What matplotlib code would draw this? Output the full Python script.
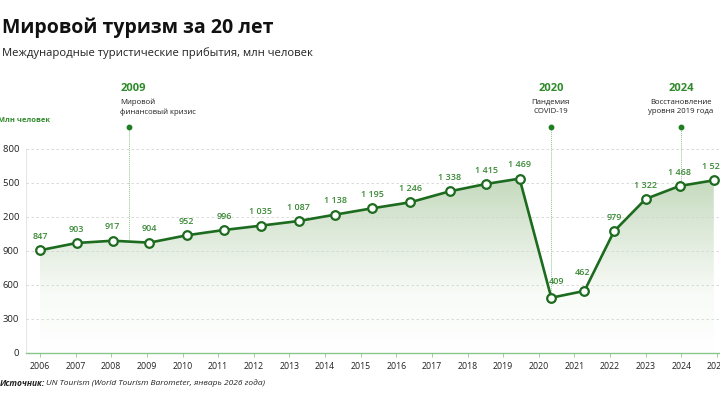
import matplotlib
matplotlib.use("Agg")
import matplotlib.pyplot as plt
import numpy as np
from matplotlib.colors import LinearSegmentedColormap
from matplotlib.patches import PathPatch

plt.rcParams["font.family"] = ["Open Sans", "DejaVu Sans"]

# data
years = list(range(2006, 2026))
# where the markers actually sit on the year axis (not exactly on the ticks)
point_pos = [2006.00, 2007.03, 2008.04, 2009.07, 2010.12, 2011.17, 2012.20,
             2013.26, 2014.28, 2015.32, 2016.39, 2017.50, 2018.52, 2019.46,
             2020.35, 2021.28, 2022.11, 2023.00, 2023.95, 2024.91]
# marker heights as read on the y scale
point_val = [904, 968, 988, 971, 1036, 1083, 1121, 1162, 1218, 1274, 1327,
             1424, 1489, 1536, 485, 545, 1071, 1357, 1471, 1521]
# printed value labels
value_labels = ["847", "903", "917", "904", "952", "996", "1 035", "1 087",
                "1 138", "1 195", "1 246", "1 338", "1 415", "1 469", "409",
                "462", "979", "1 322", "1 468", "1 520"]
y_ticks = [0, 300, 600, 900, 1200, 1500, 1800]
y_tick_labels = ["0", "300", "600", "900", "1 200", "1 500", "1 800"]

events = [
    # (x position, year text, description, line bottom, align)
    (2008.5, "2009", "Мировой\nфинансовый кризис", 993, "left"),
    (2020.35, "2020", "Пандемия\nCOVID-19", 485, "center"),
    (2024.0, "2024", "Восстановление\nуровня 2019 года", 1471, "center"),
]

DARK_GREEN = "#1d6b1f"
LABEL_GREEN = "#3b8a36"
TEXT = "#222222"

fig = plt.figure(figsize=(7.2, 4.05), dpi=100)
ax = fig.add_axes([26 / 720, 52.3 / 405, 694 / 720, 204 / 405])

x0 = 2006 - 14 / 35.63
ax.set_xlim(x0, x0 + 694 / 35.63)
ax.set_ylim(0, 1800)

# gradient fill under the line
poly = ax.fill_between(point_pos, point_val, 0, color="none", lw=0)
clip = PathPatch(poly.get_paths()[0], transform=ax.transData,
                 facecolor="none", edgecolor="none")
ax.add_patch(clip)
cmap = LinearSegmentedColormap.from_list("g", ["#ffffff", "#f8fbf7", "#dfeadb", "#c4dabd"])
grad = np.linspace(0, 1, 256).reshape(-1, 1)
im = ax.imshow(grad, extent=[point_pos[0], point_pos[-1], 0, 1560], origin="lower",
               cmap=cmap, aspect="auto", zorder=1, interpolation="bicubic")
im.set_clip_path(clip)

ax.set_axisbelow(False)
ax.yaxis.grid(True, color="#d4d4d4", linestyle=(0, (3, 3)), linewidth=0.6)
ax.xaxis.grid(False)

ax.plot(point_pos, point_val, color=DARK_GREEN, lw=1.9, zorder=4,
        marker="o", markersize=6.2, markerfacecolor="white",
        markeredgecolor=DARK_GREEN, markeredgewidth=1.6)

offsets = {"409": (3.5, 11.5), "462": (-1.5, 13)}
for xp, yv, lab in zip(point_pos, point_val, value_labels):
    ax.annotate(lab, (xp, yv), xytext=offsets.get(lab, (0, 10)),
                textcoords="offset points", ha="center", va="center",
                fontsize=6.5, fontweight="semibold", color=LABEL_GREEN, zorder=5)

# event markers
for xp, yr, desc, bottom, align in events:
    ax.plot([xp, xp], [bottom, 1992], color="#8cc68a", lw=0.7,
            linestyle=(0, (1, 1)), zorder=2, clip_on=False)
    ax.plot([xp], [1992], marker="o", markersize=3.2, color="#1f7d22",
            zorder=5, clip_on=False)
    dx = -6 if align == "left" else 0
    ax.annotate(yr, (xp, 1992), xytext=(dx, 28), textcoords="offset points",
                ha=align, va="center", fontsize=8, fontweight="bold",
                color="#2e8a2a", annotation_clip=False)
    ax.annotate(desc, (xp, 1992), xytext=(dx - 0.5, 14.5), textcoords="offset points",
                ha=align, va="center", fontsize=5.6, fontweight="medium", color=TEXT,
                linespacing=1.45, multialignment=align, annotation_clip=False)

ax.set_yticks(y_ticks)
ax.set_yticklabels(y_tick_labels)
ax.set_xticks(years)
ax.set_xticklabels([str(y) for y in years])
ax.tick_params(axis="y", length=0, pad=5, labelsize=6.8, labelcolor=TEXT)
ax.tick_params(axis="x", length=3, width=0.6, color="#8cc68a", pad=4,
               labelsize=6.3, labelcolor=TEXT)

for side in ["top", "right"]:
    ax.spines[side].set_visible(False)
ax.spines["left"].set_color("#e2e2e2")
ax.spines["left"].set_linewidth(0.6)
ax.spines["bottom"].set_color("#8cc68a")
ax.spines["bottom"].set_linewidth(1.0)

fig.text(2 / 720, 1 - 28 / 405, "Мировой туризм за 20 лет", fontsize=14,
         fontweight="bold", color="#111111", va="center", ha="left")
fig.text(2 / 720, 1 - 53 / 405, "Международные туристические прибытия, млн человек",
         fontsize=8.1, color=TEXT, va="center", ha="left")
fig.text(-2 / 720, 1 - 121 / 405, "Млн человек", fontsize=5.4, fontweight="bold",
         color="#2e8a2a", va="center", ha="left")

# source line: bold italic lead, then italic text right after it
src_lead = fig.text(0, 1 - 383 / 405, "Источник:", fontsize=6.0, fontweight="bold",
                    fontstyle="italic", color=TEXT, va="center", ha="left")
fig.canvas.draw()
lead_end = src_lead.get_window_extent().x1 / fig.bbox.width
fig.text(lead_end + 1 / 720, 1 - 383 / 405,
         "UN Tourism (World Tourism Barometer, январь 2026 года)",
         fontsize=6.0, fontstyle="italic", color=TEXT, va="center", ha="left")

fig.savefig("out.png", dpi=100)
